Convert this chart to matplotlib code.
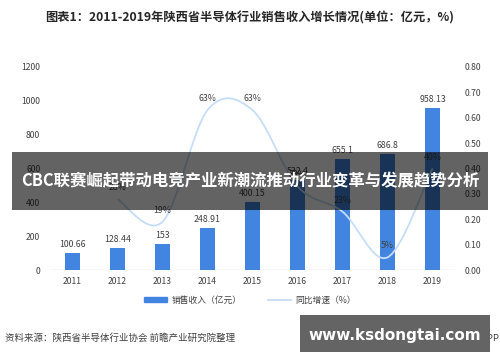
import numpy as np
import matplotlib.pyplot as plt
from matplotlib.path import Path
from matplotlib.patches import PathPatch, Patch, Rectangle
from matplotlib.lines import Line2D

plt.rcParams['font.family'] = ['Noto Sans CJK SC', 'DejaVu Sans']

'''data'''
years = ['2011', '2012', '2013', '2014', '2015', '2016', '2017', '2018', '2019']
sales = [100.66, 128.44, 153, 248.91, 400.15, 532.4, 655.1, 686.8, 958.13]
growth_years = ['2012', '2013', '2014', '2015', '2016', '2017', '2018', '2019']
growth = [0.28, 0.19, 0.63, 0.63, 0.33, 0.23, 0.05, 0.40]
growth_labels = ['28%', '19%', '63%', '63%', '33%', '23%', '5%', '40%']

bar_color = '#4285e0'
line_color = '#c6ddf8'
text_color = '#404040'

fig = plt.figure(figsize=(5, 3.62), dpi=100)
ax = fig.add_axes([0.1, 0.254, 0.81, 0.561])
ax2 = ax.twinx()

x = np.arange(len(years))
ax.bar(x, sales, width=0.33, color=bar_color, zorder=2)
for xi, v in zip(x, sales):
    ax.annotate('%g' % v, (xi, v), xytext=(0, 3), textcoords='offset points',
                ha='center', va='bottom', fontsize=6.3, color=text_color)

ax.set_xlim(-0.5, len(years) - 0.5)
ax.set_ylim(0, 1200)
ax.set_yticks(range(0, 1201, 200))
ax.set_xticks(x)
ax.set_xticklabels(years)
ax.axhline(0, color='#d9d9d9', lw=1, zorder=1)

'''smoothed growth line (bezier through the points)'''
gx = np.array([years.index(y) for y in growth_years], dtype=float)
gy = np.array(growth)
pts = np.column_stack([gx, gy])
verts = [pts[0]]
codes = [Path.MOVETO]
n = len(pts)
for i in range(n - 1):
    p_prev = pts[i - 1] if i > 0 else pts[i]
    p_next2 = pts[i + 2] if i + 2 < n else pts[i + 1]
    c1 = pts[i] + (pts[i + 1] - p_prev) / 6
    c2 = pts[i + 1] - (p_next2 - pts[i]) / 6
    verts += [c1, c2, pts[i + 1]]
    codes += [Path.CURVE4] * 3
ax2.add_patch(PathPatch(Path(verts, codes), facecolor='none',
                        edgecolor=line_color, lw=1.3, zorder=3))
for xi, v, lab in zip(gx, gy, growth_labels):
    ax2.annotate(lab, (xi, v), xytext=(0, 5), textcoords='offset points',
                 ha='center', va='bottom', fontsize=6.3, color=text_color)
ax2.set_ylim(0, 0.8)
ax2.set_yticks(np.arange(0, 0.81, 0.1))
ax2.set_yticklabels(['%.2f' % t for t in np.arange(0, 0.81, 0.1)])

for a in (ax, ax2):
    for s in a.spines.values():
        s.set_visible(False)
    a.tick_params(length=0, labelsize=6.2, labelcolor=text_color, pad=7)
ax.tick_params(axis='x', pad=5)

'''legend'''
handles = [Patch(color=bar_color), Line2D([], [], color=line_color, lw=1.3)]
fig.legend(handles, ['销售收入（亿元）', '同比增速（%）'], loc='center',
           bbox_to_anchor=(0.5, 0.17), ncol=2, frameon=False, fontsize=6.3,
           handlelength=2.6, handleheight=0.5, columnspacing=3, handletextpad=0.5,
           labelcolor=text_color)

'''texts'''
fig.text(0.5, 0.95, '图表1：2011-2019年陕西省半导体行业销售收入增长情况(单位：亿元，%)',
         ha='center', va='center', fontsize=8.8, weight='bold', color='#262626')
fig.text(0.01, 0.066, '资料来源：陕西省半导体行业协会 前瞻产业研究院整理',
         ha='left', va='center', fontsize=6.8, color=text_color)
fig.text(0.999, 0.066, '前瞻经济学人APP', ha='right', va='center',
         fontsize=6.8, color=text_color)

'''overlays'''
fig.patches.append(Rectangle((0.024, 0.42), 0.952, 0.16, transform=fig.transFigure,
                             facecolor='black', alpha=0.61, zorder=10))
fig.text(0.5, 0.5, 'CBC联赛崛起带动电竞产业新潮流推动行业变革与发展趋势分析',
         ha='center', va='center', fontsize=11.8, weight='bold', color='white', zorder=11)
fig.patches.append(Rectangle((0.6, 0.028), 0.38, 0.102, transform=fig.transFigure,
                             facecolor='#646464', zorder=10))
fig.text(0.79, 0.074, 'www.ksdongtai.com', ha='center', va='center',
         fontsize=11, weight='bold', color='white', zorder=11, family='DejaVu Sans')

plt.savefig('out.png', dpi=100)
